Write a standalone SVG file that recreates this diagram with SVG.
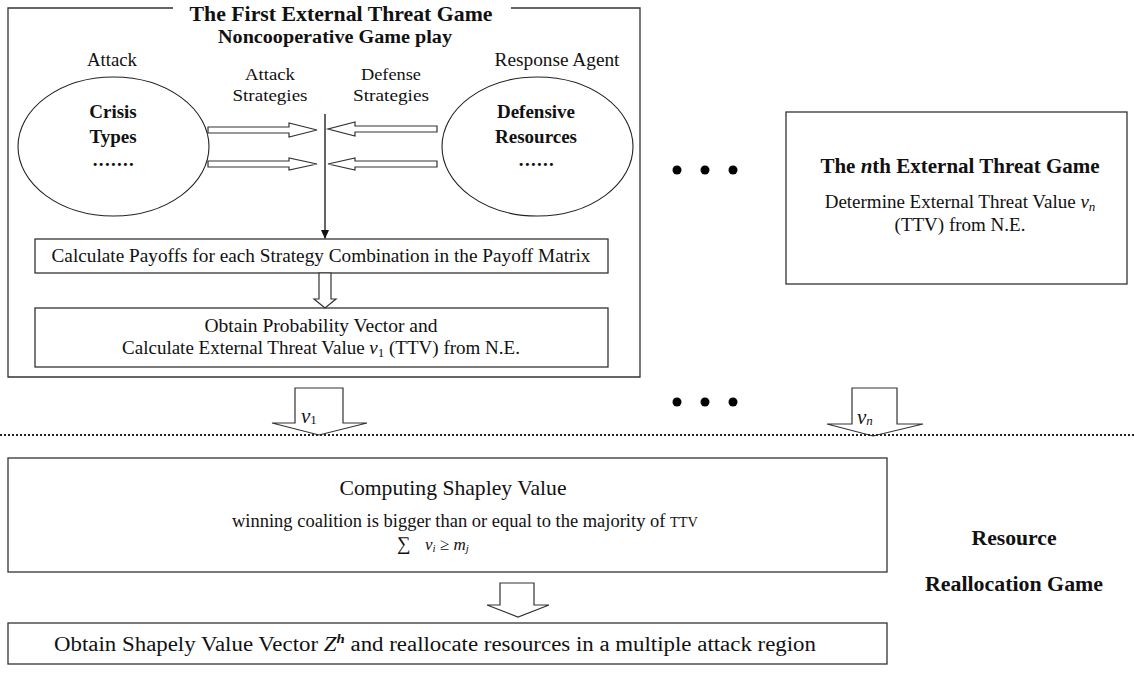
<svg xmlns="http://www.w3.org/2000/svg" width="1134" height="678" viewBox="0 0 1134 678">
<style>
text{font-family:"Liberation Serif","Times New Roman",serif;fill:#111;}
.b{font-weight:bold;}
.box{fill:none;stroke:#333;stroke-width:1.3;}
.ell{fill:none;stroke:#222;stroke-width:1.1;}
.ha{fill:#fff;stroke:#333;stroke-width:1.2;}
.ln{stroke:#111;stroke-width:1.3;fill:none;}
.dot{fill:#000;}
</style>
<defs>
<marker id="ah" markerWidth="10" markerHeight="10" refX="8" refY="5" orient="auto" markerUnits="userSpaceOnUse">
<path d="M0,1 L9,5 L0,9 Z" fill="#111"/>
</marker>
</defs>
<rect width="1134" height="678" fill="#fff"/>

<g id="first-game">
<path class="box" d="M173,8 L8,8 L8,377 L640,377 L640,8 L511,8"/>
<text class="b" x="341" y="21" font-size="21" text-anchor="middle" textLength="303" lengthAdjust="spacingAndGlyphs">The First External Threat Game</text>
<text class="b" x="335" y="43" font-size="18" text-anchor="middle" textLength="234" lengthAdjust="spacingAndGlyphs">Noncooperative Game play</text>
<text x="112" y="66" font-size="18" text-anchor="middle" textLength="50" lengthAdjust="spacingAndGlyphs">Attack</text>
<text x="557" y="66" font-size="18" text-anchor="middle" textLength="125" lengthAdjust="spacingAndGlyphs">Response Agent</text>
<text x="270" y="80" font-size="17" text-anchor="middle" textLength="50" lengthAdjust="spacingAndGlyphs">Attack</text>
<text x="270" y="101" font-size="17" text-anchor="middle" textLength="75" lengthAdjust="spacingAndGlyphs">Strategies</text>
<text x="391" y="80" font-size="17" text-anchor="middle" textLength="60" lengthAdjust="spacingAndGlyphs">Defense</text>
<text x="391" y="101" font-size="17" text-anchor="middle" textLength="76" lengthAdjust="spacingAndGlyphs">Strategies</text>
</g>

<g id="crisis-types">
<ellipse class="ell" cx="113.5" cy="146.5" rx="95.5" ry="69.5"/>
<text class="b" x="113" y="118" font-size="19" text-anchor="middle">Crisis</text>
<text class="b" x="113" y="143" font-size="19" text-anchor="middle">Types</text>
<text class="b" x="114" y="166" font-size="19" text-anchor="middle" letter-spacing="1.3">.......</text>
</g>

<g id="defensive-resources">
<ellipse class="ell" cx="537.5" cy="146.5" rx="95.5" ry="69.5"/>
<text class="b" x="536" y="118" font-size="19" text-anchor="middle">Defensive</text>
<text class="b" x="536" y="143" font-size="19" text-anchor="middle">Resources</text>
<text class="b" x="537" y="166" font-size="19" text-anchor="middle" letter-spacing="1.3">......</text>
</g>

<g id="calc-payoffs">
<rect class="box" x="35" y="239" width="573" height="34"/>
<text x="321" y="262" font-size="19" text-anchor="middle" textLength="539" lengthAdjust="spacingAndGlyphs">Calculate Payoffs for each Strategy Combination in the Payoff Matrix</text>
</g>

<g id="obtain-probability">
<rect class="box" x="35" y="308" width="573" height="59"/>
<text x="321" y="332" font-size="19" text-anchor="middle" textLength="233" lengthAdjust="spacingAndGlyphs">Obtain Probability Vector and</text>
<text x="321" y="354" font-size="19" text-anchor="middle">Calculate External Threat Value <tspan font-style="italic">v</tspan><tspan font-size="13" dy="3">1</tspan><tspan dy="-3"> (TTV) from N.E.</tspan></text>
</g>

<g id="nth-game">
<rect class="box" x="786" y="112" width="341" height="172"/>
<text class="b" x="960" y="173" font-size="21" text-anchor="middle">The <tspan font-style="italic">n</tspan>th External Threat Game</text>
<text x="960" y="208" font-size="19" text-anchor="middle">Determine External Threat Value <tspan font-style="italic">v</tspan><tspan font-style="italic" font-size="13" dy="3">n</tspan></text>
<text x="960" y="231" font-size="19" text-anchor="middle">(TTV) from N.E.</text>
</g>

<g id="ellipsis">
<circle class="dot" cx="677" cy="170" r="4.5"/>
<circle class="dot" cx="705" cy="170" r="4.5"/>
<circle class="dot" cx="733" cy="170" r="4.5"/>
<circle class="dot" cx="677" cy="402" r="4.5"/>
<circle class="dot" cx="705" cy="402" r="4.5"/>
<circle class="dot" cx="733" cy="402" r="4.5"/>
</g>

<g id="shapley">
<rect class="box" x="8" y="458" width="879" height="114"/>
<text x="453" y="495" font-size="22" text-anchor="middle" textLength="227" lengthAdjust="spacingAndGlyphs">Computing Shapley Value</text>
<text x="465" y="527" font-size="18" text-anchor="middle" textLength="466" lengthAdjust="spacingAndGlyphs">winning coalition is bigger than or equal to the majority of <tspan font-size="14">TTV</tspan></text>
<text x="397" y="550" font-size="19">∑<tspan x="425" font-size="17" font-style="italic">v</tspan><tspan font-style="italic" font-size="11" dy="2">i</tspan><tspan font-size="17" dy="-2"> ≥ </tspan><tspan font-size="17" font-style="italic">m</tspan><tspan font-style="italic" font-size="11" dy="2">j</tspan></text>
</g>

<g id="reallocate">
<rect class="box" x="8" y="623" width="879" height="41"/>
<text x="435" y="651" font-size="20" text-anchor="middle" textLength="762" lengthAdjust="spacingAndGlyphs">Obtain Shapely Value Vector <tspan font-style="italic">Z</tspan><tspan font-style="italic" font-weight="bold" font-size="13" dy="-8">h</tspan><tspan dy="8"> and reallocate resources in a multiple attack region</tspan></text>
</g>

<g id="reallocation-label">
<text class="b" x="1014" y="545" font-size="20" text-anchor="middle" textLength="85" lengthAdjust="spacingAndGlyphs">Resource</text>
<text class="b" x="1014" y="591" font-size="20" text-anchor="middle" textLength="178" lengthAdjust="spacingAndGlyphs">Reallocation Game</text>
</g>

<g id="connectors">
<polygon class="ha" points="208,127 289,127 289,123 317,130 289,137 289,133 208,133"/>
<polygon class="ha" points="208,161 289,161 289,158 317,164 289,170 289,167 208,167"/>
<polygon class="ha" points="437,126 355,126 355,122 328,129 355,136 355,132 437,132"/>
<polygon class="ha" points="437,161 355,161 355,158 328,164 355,170 355,167 437,167"/>
<line class="ln" x1="325" y1="114" x2="325" y2="238" marker-end="url(#ah)"/>
<polygon class="ha" points="319,273 331,273 331,299 336,299 325,308 314,299 319,299"/>
<polygon class="ha" points="295,388 343,388 343,423 367,423 319,435 272,423 295,423"/>
<text x="301" y="423" font-size="21" font-style="italic">v<tspan font-style="normal" font-size="13" dy="1">1</tspan></text>
<polygon class="ha" points="852,388 897,388 897,424 923,424 873,436 827,424 852,424"/>
<text x="857" y="424" font-size="21" font-style="italic">v<tspan font-size="13" dy="1">n</tspan></text>
<polygon class="ha" points="500,583 534,583 534,605 549,605 518,617 487,605 500,605"/>
<line x1="0" y1="435" x2="1134" y2="435" stroke="#222" stroke-width="2" stroke-dasharray="2 2"/>
</g>
</svg>
